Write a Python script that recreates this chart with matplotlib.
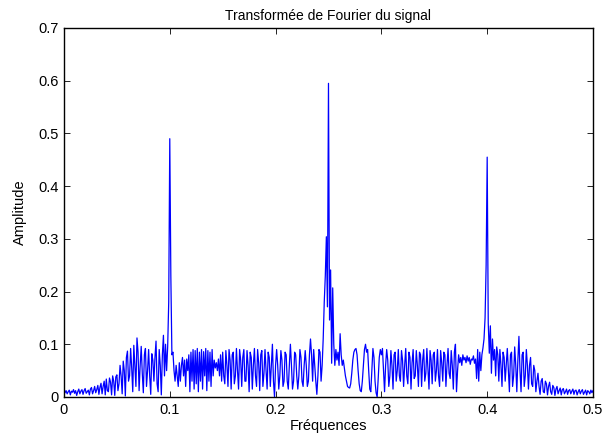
import numpy as np
import matplotlib
matplotlib.use("Agg")
import matplotlib.pyplot as plt
from matplotlib.ticker import FuncFormatter

plt.rcParams['font.family'] = ['Liberation Sans', 'DejaVu Sans']

# frequency grid, step 0.001
freq = np.linspace(0, 0.5, 501)

# amplitude, one block of 10 samples per 0.01
amp_000 = [0.015, 0.008, 0.012, 0.006, 0.010, 0.013, 0.004, 0.011, 0.009, 0.014]
amp_010 = [0.007, 0.012, 0.003, 0.010, 0.015, 0.006, 0.011, 0.014, 0.005, 0.012]
amp_020 = [0.016, 0.007, 0.010, 0.013, 0.004, 0.015, 0.018, 0.006, 0.012, 0.020]
amp_030 = [0.008, 0.014, 0.022, 0.005, 0.018, 0.026, 0.006, 0.020, 0.030, 0.004]
amp_040 = [0.034, 0.012, 0.010, 0.036, 0.028, 0.004, 0.040, 0.030, 0.003, 0.038]
amp_050 = [0.042, 0.012, 0.025, 0.060, 0.040, 0.006, 0.068, 0.050, 0.002, 0.075]
amp_060 = [0.087, 0.030, 0.040, 0.092, 0.055, 0.010, 0.098, 0.060, 0.020, 0.112]
amp_070 = [0.085, 0.012, 0.060, 0.096, 0.045, 0.008, 0.080, 0.092, 0.020, 0.050]
amp_080 = [0.090, 0.040, 0.005, 0.082, 0.070, 0.030, 0.075, 0.106, 0.025, 0.010]
amp_090 = [0.090, 0.060, 0.004, 0.080, 0.117, 0.040, 0.100, 0.050, 0.095, 0.180]
amp_100 = [0.490, 0.230, 0.080, 0.085, 0.050, 0.030, 0.060, 0.040, 0.020, 0.065]
amp_110 = [0.030, 0.060, 0.075, 0.040, 0.070, 0.020, 0.072, 0.050, 0.080, 0.010]
amp_120 = [0.085, 0.030, 0.090, 0.015, 0.088, 0.025, 0.092, 0.010, 0.085, 0.030]
amp_130 = [0.090, 0.015, 0.086, 0.040, 0.092, 0.012, 0.088, 0.030, 0.085, 0.020]
amp_140 = [0.090, 0.040, 0.070, 0.055, 0.065, 0.050, 0.072, 0.040, 0.080, 0.030]
amp_150 = [0.085, 0.040, 0.025, 0.088, 0.060, 0.020, 0.090, 0.070, 0.015, 0.080]
amp_160 = [0.085, 0.025, 0.040, 0.092, 0.050, 0.015, 0.090, 0.070, 0.020, 0.075]
amp_170 = [0.090, 0.030, 0.030, 0.088, 0.060, 0.010, 0.085, 0.075, 0.015, 0.060]
amp_180 = [0.092, 0.040, 0.020, 0.090, 0.065, 0.012, 0.080, 0.088, 0.020, 0.045]
amp_190 = [0.090, 0.050, 0.015, 0.085, 0.075, 0.020, 0.060, 0.100, 0.030, 0.000]
amp_200 = [0.060, 0.090, 0.060, 0.015, 0.040, 0.088, 0.070, 0.020, 0.030, 0.085]
amp_210 = [0.080, 0.030, 0.015, 0.060, 0.100, 0.060, 0.015, 0.030, 0.085, 0.080]
amp_220 = [0.040, 0.015, 0.040, 0.090, 0.075, 0.030, 0.020, 0.060, 0.088, 0.060]
amp_230 = [0.020, 0.030, 0.080, 0.110, 0.080, 0.030, 0.090, 0.060, 0.030, 0.005]
amp_240 = [0.040, 0.090, 0.085, 0.030, 0.060, 0.110, 0.180, 0.230, 0.304, 0.171]
amp_250 = [0.595, 0.146, 0.241, 0.064, 0.207, 0.100, 0.060, 0.090, 0.070, 0.085]
amp_260 = [0.060, 0.120, 0.080, 0.060, 0.070, 0.055, 0.040, 0.030, 0.020, 0.018]
amp_270 = [0.017, 0.025, 0.045, 0.070, 0.085, 0.090, 0.092, 0.080, 0.050, 0.025]
amp_280 = [0.012, 0.010, 0.030, 0.060, 0.090, 0.100, 0.085, 0.090, 0.050, 0.015]
amp_290 = [0.010, 0.050, 0.092, 0.075, 0.030, 0.008, 0.000, 0.035, 0.075, 0.090]
amp_300 = [0.080, 0.092, 0.050, 0.010, 0.060, 0.090, 0.070, 0.020, 0.040, 0.088]
amp_310 = [0.060, 0.015, 0.080, 0.085, 0.030, 0.050, 0.090, 0.040, 0.030, 0.088]
amp_320 = [0.070, 0.020, 0.060, 0.092, 0.040, 0.025, 0.085, 0.075, 0.015, 0.065]
amp_330 = [0.090, 0.035, 0.040, 0.088, 0.060, 0.020, 0.085, 0.080, 0.020, 0.070]
amp_340 = [0.090, 0.030, 0.045, 0.092, 0.055, 0.015, 0.088, 0.070, 0.025, 0.080]
amp_350 = [0.085, 0.030, 0.050, 0.090, 0.040, 0.020, 0.088, 0.065, 0.030, 0.085]
amp_360 = [0.080, 0.020, 0.060, 0.092, 0.045, 0.035, 0.088, 0.060, 0.015, 0.085]
amp_370 = [0.100, 0.010, 0.050, 0.080, 0.065, 0.075, 0.060, 0.080, 0.070, 0.075]
amp_380 = [0.065, 0.078, 0.068, 0.075, 0.062, 0.072, 0.070, 0.078, 0.064, 0.072]
amp_390 = [0.035, 0.090, 0.030, 0.085, 0.050, 0.080, 0.093, 0.110, 0.150, 0.250]
amp_400 = [0.455, 0.140, 0.083, 0.135, 0.045, 0.110, 0.070, 0.090, 0.040, 0.095]
amp_410 = [0.080, 0.030, 0.090, 0.060, 0.020, 0.085, 0.075, 0.030, 0.060, 0.092]
amp_420 = [0.050, 0.010, 0.080, 0.085, 0.020, 0.040, 0.095, 0.060, 0.010, 0.070]
amp_430 = [0.115, 0.050, 0.010, 0.080, 0.085, 0.020, 0.040, 0.090, 0.060, 0.015]
amp_440 = [0.060, 0.075, 0.025, 0.020, 0.060, 0.050, 0.010, 0.030, 0.045, 0.020]
amp_450 = [0.005, 0.030, 0.035, 0.010, 0.008, 0.030, 0.025, 0.004, 0.020, 0.028]
amp_460 = [0.010, 0.005, 0.022, 0.018, 0.003, 0.015, 0.020, 0.006, 0.012, 0.017]
amp_470 = [0.004, 0.014, 0.016, 0.006, 0.010, 0.015, 0.005, 0.012, 0.014, 0.006]
amp_480 = [0.011, 0.015, 0.005, 0.012, 0.013, 0.004, 0.010, 0.014, 0.006, 0.011]
amp_490 = [0.014, 0.005, 0.009, 0.013, 0.004, 0.012, 0.010, 0.006, 0.013, 0.008]
amp_500 = [0.012]

blocks = [amp_000, amp_010, amp_020, amp_030, amp_040, amp_050, amp_060, amp_070,
          amp_080, amp_090, amp_100, amp_110, amp_120, amp_130, amp_140, amp_150,
          amp_160, amp_170, amp_180, amp_190, amp_200, amp_210, amp_220, amp_230,
          amp_240, amp_250, amp_260, amp_270, amp_280, amp_290, amp_300, amp_310,
          amp_320, amp_330, amp_340, amp_350, amp_360, amp_370, amp_380, amp_390,
          amp_400, amp_410, amp_420, amp_430, amp_440, amp_450, amp_460, amp_470,
          amp_480, amp_490, amp_500]
amp = np.concatenate(blocks)

xticks = [0, 0.1, 0.2, 0.3, 0.4, 0.5]
yticks = [0, 0.1, 0.2, 0.3, 0.4, 0.5, 0.6, 0.7]

fig = plt.figure(figsize=(6.03, 4.34), dpi=100)
ax = fig.add_axes([0.1061, 0.0853, 0.8773, 0.8502])
ax.plot(freq, amp, color=(0, 0, 1), lw=0.9)

ax.set_xlim(0, 0.5)
ax.set_ylim(0, 0.7)
ax.set_xticks(xticks)
ax.set_yticks(yticks)
fmt = FuncFormatter(lambda v, p: '%g' % v)
ax.xaxis.set_major_formatter(fmt)
ax.yaxis.set_major_formatter(fmt)
ax.tick_params(direction='in', top=True, right=True, length=4, width=0.6,
               labelsize=10.5, pad=4)
for s in ax.spines.values():
    s.set_linewidth(1.0)

ax.set_title("Transformée de Fourier du signal", fontsize=10, pad=6)
ax.set_xlabel("Fréquences", fontsize=10.5, labelpad=2)
ax.set_ylabel("Amplitude", fontsize=10.5, labelpad=8)

fig.savefig("out.png", dpi=100)
